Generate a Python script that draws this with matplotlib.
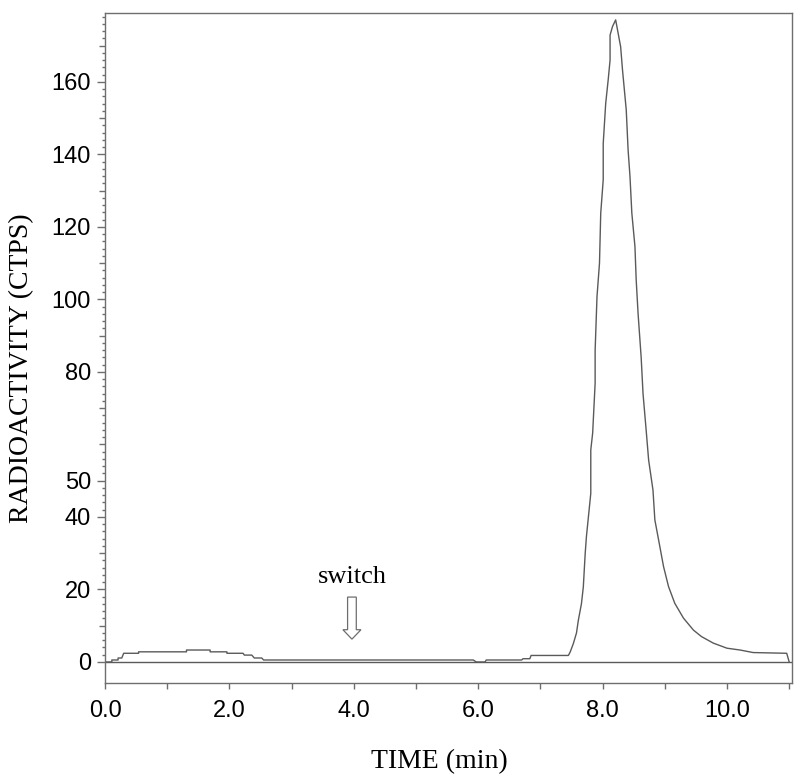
import matplotlib
matplotlib.use("Agg")
import matplotlib.pyplot as plt
from matplotlib.patches import FancyArrow
from matplotlib.ticker import FixedLocator

# ---- data ----
time_min = [0.00, 0.11, 0.11, 0.21, 0.21, 0.27, 0.30, 0.54, 0.54, 1.31, 1.31, 1.69,
            1.69, 1.96, 1.96, 2.22, 2.24, 2.36, 2.40, 2.52, 2.55, 5.92, 5.97, 6.11,
            6.13, 6.70, 6.72, 6.83, 6.85, 7.45, 7.48, 7.53, 7.58, 7.61, 7.66, 7.69,
            7.72, 7.74, 7.81, 7.81, 7.84, 7.88, 7.88, 7.91, 7.95, 7.97, 8.01, 8.01,
            8.05, 8.09, 8.12, 8.12, 8.16, 8.21, 8.25, 8.29, 8.32, 8.38, 8.41, 8.44,
            8.47, 8.52, 8.54, 8.57, 8.62, 8.65, 8.70, 8.74, 8.81, 8.84, 8.90, 8.98,
            9.06, 9.16, 9.30, 9.46, 9.59, 9.78, 10.00, 10.21, 10.42, 10.96, 11.00]
counts = [0.0, 0.0, 0.55, 0.55, 1.1, 1.1, 2.4, 2.4, 2.8, 2.8, 3.3, 3.3,
          2.8, 2.8, 2.4, 2.4, 1.9, 1.9, 1.1, 1.1, 0.55, 0.55, 0.0, 0.0,
          0.55, 0.55, 0.9, 0.9, 1.8, 1.8, 2.8, 5.1, 8.0, 11.5, 16.1, 20.7,
          29.9, 34.6, 46.5, 58.5, 63.1, 76.9, 86.0, 100.8, 110.0, 123.8, 133.0, 143.0,
          154.1, 160.6, 166.0, 172.9, 175.3, 177.1, 173.4, 169.7, 163.3, 152.3, 141.2, 134.0,
          123.8, 114.6, 105.4, 96.2, 84.0, 74.0, 64.0, 55.7, 47.4, 39.2, 33.7, 26.3,
          20.8, 16.2, 12.1, 8.8, 7.0, 5.2, 3.8, 3.3, 2.6, 2.4, 0.0]

x_major = [0, 2, 4, 6, 8, 10]
x_major_labels = ["0.0", "2.0", "4.0", "6.0", "8.0", "10.0"]
x_minor = [1, 3, 5, 7, 9, 11]
y_labeled = [0, 20, 40, 50, 80, 100, 120, 140, 160]
y_medium = [10, 30, 60, 70, 90, 110, 130, 150, 170]

switch_time = 3.97
switch_text = "switch"

gray = "#6e6e6e"
line_c = "#5a5a5a"

fig = plt.figure(figsize=(8.0, 7.83), dpi=100)
ax = fig.add_axes([0.13125, 0.1277, 0.85875, 0.8557])

ax.plot(time_min, counts, color=line_c, lw=1.0)
ax.axhline(0, color=line_c, lw=1.0)

ax.set_xlim(0, 11.045)
ax.set_ylim(-5.8, 179)

for s in ax.spines.values():
    s.set_color(gray)
    s.set_linewidth(1.0)

ax.xaxis.set_major_locator(FixedLocator(x_major))
ax.set_xticklabels(x_major_labels)
ax.xaxis.set_minor_locator(FixedLocator(x_minor))

all_y = sorted(y_labeled + y_medium)
ax.yaxis.set_major_locator(FixedLocator(all_y))
ax.set_yticklabels([str(v) if v in y_labeled else "" for v in all_y])
ax.yaxis.set_minor_locator(FixedLocator([v for v in range(0, 180, 2) if v % 10 != 0]))

ax.tick_params(axis="x", which="both", direction="out", length=4, width=1,
               color=gray, pad=8, labelsize=17, top=False)
ax.tick_params(axis="y", which="major", direction="out", length=6, width=1,
               color=gray, pad=4, labelsize=17, right=False)
ax.tick_params(axis="y", which="minor", direction="out", length=2.5, width=1,
               color=gray, right=False)
for lab in ax.get_xticklabels() + ax.get_yticklabels():
    lab.set_fontfamily("Liberation Sans")

for v, t in zip(all_y, ax.yaxis.get_major_ticks()):
    if v in y_medium:
        t.tick1line.set_markersize(4)

# switch annotation
ax.text(switch_time, 20.5, switch_text, ha="center", va="bottom",
        fontsize=19, family="Liberation Serif")
arr = FancyArrow(switch_time, 17.9, 0, -11.6, width=0.14, head_width=0.29,
                 head_length=2.6, length_includes_head=True,
                 facecolor="white", edgecolor=gray, lw=0.9)
ax.add_patch(arr)

fig.text(0.549, 1 - 762 / 783, "TIME (min)", ha="center", va="center",
         fontsize=20, family="Liberation Serif")
fig.text(22 / 800, 1 - 368 / 783, "RADIOACTIVITY (CTPS)", ha="center", va="center",
         rotation=90, fontsize=20, family="Liberation Serif")

fig.savefig("out.png", dpi=100)
